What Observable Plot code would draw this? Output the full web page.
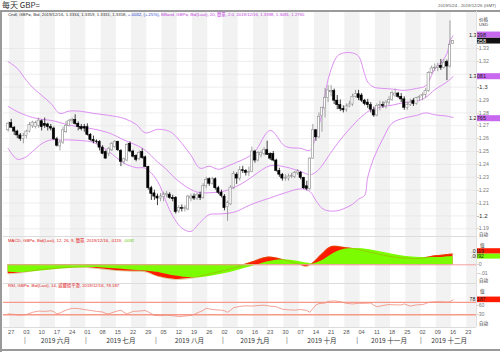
<!DOCTYPE html>
<html><head><meta charset="utf-8">
<script src="https://cdn.jsdelivr.net/npm/d3@7"></script>
<script src="https://cdn.jsdelivr.net/npm/@observablehq/plot@0.6"></script>
<style>
body{margin:0;background:#fff;}
#wrap{position:relative;width:500px;height:352px;overflow:hidden;background:#fff;font-family:"Liberation Sans","Noto Sans CJK SC",sans-serif;}
#wrap svg{position:absolute;left:0;top:0;}
.t{position:absolute;white-space:nowrap;line-height:1;}
</style></head><body><div id="wrap"></div>
<script>
// ---------- DATA ----------
const dates = ["2019-05-24","2019-05-27","2019-05-28","2019-05-29","2019-05-30","2019-05-31",
"2019-06-03","2019-06-04","2019-06-05","2019-06-06","2019-06-07","2019-06-10","2019-06-11","2019-06-12","2019-06-13","2019-06-14",
"2019-06-17","2019-06-18","2019-06-19","2019-06-20","2019-06-21","2019-06-24","2019-06-25","2019-06-26","2019-06-27","2019-06-28",
"2019-07-01","2019-07-02","2019-07-03","2019-07-04","2019-07-05","2019-07-08","2019-07-09","2019-07-10","2019-07-11","2019-07-12",
"2019-07-15","2019-07-16","2019-07-17","2019-07-18","2019-07-19","2019-07-22","2019-07-23","2019-07-24","2019-07-25","2019-07-26",
"2019-07-29","2019-07-30","2019-07-31","2019-08-01","2019-08-02","2019-08-05","2019-08-06","2019-08-07","2019-08-08","2019-08-09",
"2019-08-12","2019-08-13","2019-08-14","2019-08-15","2019-08-16","2019-08-19","2019-08-20","2019-08-21","2019-08-22","2019-08-23",
"2019-08-26","2019-08-27","2019-08-28","2019-08-29","2019-08-30","2019-09-02","2019-09-03","2019-09-04","2019-09-05","2019-09-06",
"2019-09-09","2019-09-10","2019-09-11","2019-09-12","2019-09-13","2019-09-16","2019-09-17","2019-09-18","2019-09-19","2019-09-20",
"2019-09-23","2019-09-24","2019-09-25","2019-09-26","2019-09-27","2019-09-30","2019-10-01","2019-10-02","2019-10-03","2019-10-04",
"2019-10-07","2019-10-08","2019-10-09","2019-10-10","2019-10-11","2019-10-14","2019-10-15","2019-10-16","2019-10-17","2019-10-18",
"2019-10-21","2019-10-22","2019-10-23","2019-10-24","2019-10-25","2019-10-28","2019-10-29","2019-10-30","2019-10-31","2019-11-01",
"2019-11-04","2019-11-05","2019-11-06","2019-11-07","2019-11-08","2019-11-11","2019-11-12","2019-11-13","2019-11-14","2019-11-15",
"2019-11-18","2019-11-19","2019-11-20","2019-11-21","2019-11-22","2019-11-25","2019-11-26","2019-11-27","2019-11-28","2019-11-29",
"2019-12-02","2019-12-03","2019-12-04","2019-12-05","2019-12-06","2019-12-09","2019-12-10","2019-12-11","2019-12-12","2019-12-13","2019-12-16"];
const open = [1.2665,1.2720,1.2685,1.2655,1.2625,1.2598,1.2620,1.2655,1.2695,1.2690,1.2700,1.2735,1.2715,1.2710,1.2690,1.2678,
1.2595,1.2540,1.2570,1.2650,1.2700,1.2735,1.2745,1.2715,1.2690,1.2690,1.2690,1.2630,1.2590,1.2578,1.2574,1.2530,1.2496,1.2483,1.2509,1.2535,
1.2575,1.2505,1.2420,1.2430,1.2560,1.2500,1.2465,1.2440,1.2495,1.2455,1.2380,1.2215,1.2175,1.2150,1.2135,1.2145,1.2160,1.2165,1.2140,1.2140,
1.2035,1.2060,1.2055,1.2050,1.2135,1.2150,1.2135,1.2160,1.2140,1.2230,1.2285,1.2250,1.2285,1.2215,1.2180,1.2150,1.2070,1.2090,1.2220,1.2320,
1.2290,1.2355,1.2350,1.2335,1.2340,1.2500,1.2430,1.2470,1.2480,1.2510,1.2480,1.2480,1.2430,1.2350,1.2320,1.2290,1.2290,1.2305,1.2300,1.2330,
1.2335,1.2295,1.2230,1.2210,1.2445,1.2665,1.2610,1.2775,1.2835,1.2915,1.2960,1.2970,1.2895,1.2860,1.2830,1.2825,1.2850,1.2865,1.2925,1.2945,
1.2935,1.2895,1.2880,1.2860,1.2820,1.2780,1.2855,1.2860,1.2850,1.2880,1.2900,1.2935,1.2950,1.2925,1.2905,1.2840,1.2860,1.2895,1.2870,1.2915,
1.2930,1.2940,1.2970,1.3110,1.3145,1.3150,1.3165,1.3150,1.3195,1.3160,1.3334];
const high = [1.2730,1.2750,1.2695,1.2665,1.2640,1.2640,1.2665,1.2725,1.2735,1.2735,1.2760,1.2745,1.2760,1.2720,1.2710,1.2690,
1.2610,1.2585,1.2690,1.2735,1.2750,1.2760,1.2785,1.2730,1.2710,1.2710,1.2715,1.2640,1.2620,1.2590,1.2585,1.2545,1.2505,1.2530,1.2570,1.2585,
1.2580,1.2515,1.2450,1.2565,1.2575,1.2510,1.2475,1.2505,1.2520,1.2465,1.2385,1.2230,1.2200,1.2170,1.2175,1.2185,1.2190,1.2180,1.2160,1.2150,
1.2080,1.2085,1.2080,1.2160,1.2170,1.2170,1.2175,1.2185,1.2250,1.2300,1.2295,1.2300,1.2295,1.2230,1.2200,1.2165,1.2115,1.2235,1.2345,1.2335,
1.2385,1.2385,1.2360,1.2380,1.2535,1.2510,1.2500,1.2505,1.2530,1.2580,1.2490,1.2500,1.2440,1.2370,1.2330,1.2320,1.2325,1.2330,1.2345,1.2360,
1.2345,1.2300,1.2270,1.2450,1.2710,1.2670,1.2800,1.2840,1.2990,1.3012,1.3012,1.2985,1.2935,1.2900,1.2855,1.2870,1.2890,1.2945,1.2975,1.2975,
1.2950,1.2905,1.2905,1.2880,1.2845,1.2870,1.2890,1.2885,1.2895,1.2925,1.2970,1.2985,1.2960,1.2950,1.2925,1.2885,1.2905,1.2910,1.2920,1.2935,
1.2955,1.2990,1.3120,1.3165,1.3180,1.3185,1.3215,1.3215,1.3210,1.3514,1.3359];
const low = [1.2650,1.2680,1.2625,1.2600,1.2580,1.2560,1.2600,1.2645,1.2680,1.2675,1.2680,1.2660,1.2680,1.2660,1.2660,1.2585,
1.2535,1.2505,1.2555,1.2640,1.2690,1.2715,1.2705,1.2660,1.2660,1.2650,1.2620,1.2580,1.2560,1.2560,1.2505,1.2475,1.2440,1.2460,1.2500,1.2525,
1.2500,1.2383,1.2400,1.2420,1.2490,1.2450,1.2420,1.2430,1.2440,1.2375,1.2200,1.2120,1.2120,1.2080,1.2110,1.2110,1.2140,1.2130,1.2110,1.2015,
1.2020,1.2030,1.2030,1.2040,1.2110,1.2120,1.2120,1.2120,1.2130,1.2210,1.2230,1.2240,1.2200,1.2165,1.2140,1.2040,1.1958,1.2080,1.2205,1.2245,
1.2270,1.2330,1.2310,1.2305,1.2335,1.2410,1.2420,1.2450,1.2465,1.2470,1.2430,1.2420,1.2340,1.2300,1.2270,1.2270,1.2270,1.2290,1.2290,1.2315,
1.2280,1.2205,1.2195,1.2195,1.2440,1.2580,1.2600,1.2650,1.2760,1.2880,1.2925,1.2865,1.2825,1.2810,1.2800,1.2805,1.2840,1.2850,1.2915,1.2895,
1.2880,1.2855,1.2835,1.2800,1.2765,1.2770,1.2815,1.2835,1.2830,1.2860,1.2890,1.2920,1.2910,1.2880,1.2820,1.2820,1.2850,1.2850,1.2860,1.2890,
1.2895,1.2915,1.2960,1.3100,1.3120,1.3120,1.3130,1.3140,1.3050,1.3150,1.3331];
const close = [1.2715,1.2685,1.2655,1.2625,1.2598,1.2620,1.2655,1.2705,1.2725,1.2720,1.2740,1.2690,1.2700,1.2690,1.2678,1.2595,
1.2545,1.2570,1.2665,1.2700,1.2735,1.2745,1.2715,1.2690,1.2675,1.2678,1.2630,1.2590,1.2578,1.2574,1.2530,1.2483,1.2445,1.2522,1.2560,1.2575,
1.2510,1.2420,1.2440,1.2550,1.2500,1.2460,1.2435,1.2490,1.2450,1.2380,1.2215,1.2170,1.2150,1.2135,1.2150,1.2165,1.2170,1.2140,1.2130,1.2030,
1.2060,1.2055,1.2060,1.2150,1.2150,1.2135,1.2160,1.2140,1.2230,1.2280,1.2250,1.2285,1.2215,1.2180,1.2155,1.2060,1.2100,1.2220,1.2325,1.2290,
1.2355,1.2350,1.2335,1.2340,1.2500,1.2430,1.2490,1.2490,1.2510,1.2475,1.2445,1.2430,1.2350,1.2320,1.2290,1.2295,1.2305,1.2310,1.2335,1.2345,
1.2295,1.2215,1.2210,1.2445,1.2665,1.2610,1.2770,1.2840,1.2915,1.2975,1.2970,1.2895,1.2860,1.2830,1.2820,1.2850,1.2865,1.2925,1.2945,1.2915,
1.2895,1.2870,1.2860,1.2825,1.2780,1.2855,1.2860,1.2852,1.2880,1.2900,1.2955,1.2950,1.2925,1.2905,1.2840,1.2860,1.2880,1.2870,1.2915,1.2925,
1.2940,1.2970,1.3110,1.3145,1.3150,1.3160,1.3150,1.3190,1.3160,1.3326,1.3358];

// Bollinger band (20, 2.0) values at sample days
const bandIdx   = [0,3,6,8,11,14,17,20,24,28,33,38,42,45,49,52,54,57,60,63,66,69,72,75,78,81,86,91,96,99,101,103,105,108,110,113,115,117,118,120,123,126,130,134,137,140,142,144,145,146];
const bandUpper = [1.3199,1.3145,1.3052,1.2998,1.2936,1.2874,1.2796,1.2814,1.2812,1.2796,1.2781,1.2757,1.2711,1.2645,1.2672,1.2664,1.2641,1.2564,1.2471,1.2370,1.2386,1.2362,1.2386,1.2417,1.2448,1.2500,1.2664,1.2540,1.2525,1.2509,1.2620,1.2800,1.3060,1.3240,1.3265,1.3265,1.3240,1.3100,1.3040,1.3000,1.2990,1.2985,1.2975,1.2990,1.3010,1.3140,1.3190,1.3260,1.3360,1.3398];
const bandMid   = [1.2850,1.2810,1.2780,1.2765,1.2750,1.2742,1.2725,1.2705,1.2690,1.2675,1.2645,1.2590,1.2550,1.2510,1.2420,1.2360,1.2310,1.2250,1.2205,1.2180,1.2180,1.2185,1.2200,1.2230,1.2270,1.2320,1.2390,1.2380,1.2345,1.2320,1.2340,1.2390,1.2460,1.2560,1.2620,1.2700,1.2750,1.2790,1.2810,1.2830,1.2850,1.2860,1.2880,1.2890,1.2920,1.2980,1.3010,1.3040,1.3060,1.3081];
const bandLower = [1.2525,1.2440,1.2460,1.2500,1.2560,1.2590,1.2590,1.2590,1.2585,1.2570,1.2500,1.2410,1.2375,1.2370,1.2270,1.2100,1.2000,1.1905,1.1880,1.1950,1.2010,1.2015,1.2020,1.2035,1.2070,1.2100,1.2140,1.2180,1.2210,1.2190,1.2120,1.2060,1.2040,1.2040,1.2055,1.2090,1.2130,1.2160,1.2300,1.2450,1.2600,1.2720,1.2760,1.2780,1.2800,1.2785,1.2780,1.2775,1.2770,1.2765];

// MACD (12, 26, 9)
const macdIdx    = [0,5,10,15,20,25,30,35,40,45,48,50,55,60,65,70,75,80,85,90,95,98,100,103,106,110,115,120,125,130,135,140,143,146];
const macdLine   = [-0.0100,-0.0085,-0.0055,-0.0040,-0.0030,-0.0028,-0.0045,-0.0062,-0.0072,-0.0078,-0.0115,-0.0135,-0.0162,-0.0150,-0.0110,-0.0070,-0.0025,0.0030,0.0085,0.0060,0.0010,-0.0020,0.0020,0.0120,0.0200,0.0195,0.0170,0.0130,0.0095,0.0075,0.0070,0.0100,0.0110,0.0119];
const signalLine = [-0.0082,-0.0085,-0.0072,-0.0055,-0.0040,-0.0032,-0.0033,-0.0045,-0.0058,-0.0068,-0.0080,-0.0090,-0.0125,-0.0145,-0.0135,-0.0105,-0.0065,-0.0020,0.0030,0.0055,0.0040,0.0020,0.0010,0.0045,0.0110,0.0170,0.0180,0.0160,0.0125,0.0095,0.0080,0.0080,0.0085,0.0092];

// RSI (14)
const rsiIdx  = [0,2,4,6,8,10,12,14,15,16,17,19,21,23,25,27,29,31,32,33,35,37,38,39,41,43,45,46,48,50,52,54,55,56,58,60,61,62,64,65,66,68,70,71,72,73,74,76,78,80,82,84,86,88,90,92,94,96,98,99,100,101,102,104,105,107,109,111,113,115,117,119,120,121,123,125,127,129,130,132,134,136,137,138,140,142,144,145,146];
const rsiVals = [33,31,29,31,38,42,41,43,40,33,36,45,51,50,47,44,41,39,35,33,40,45,38,33,41,42,44,39,28,27,29,27,26,24,26,28,31,36,44,51,49,46,45,43,38,45,53,57,59,58,60,61,58,56,48,46,45,47,44,38,50,62,66,68,73,75,72,67,65,67,67,68,61,56,60,63,62,62,65,58,62,63,66,70,72,72,71,72,78.187];

// axis ticks / labels
const priceTicks = [1.19,1.2,1.21,1.22,1.23,1.24,1.25,1.26,1.27,1.28,1.29,1.3,1.31,1.32,1.33];
const priceTickLabels = ["1.19","1.2","1.21","1.22","1.23","1.24","1.25","1.26","1.27","1.28","1.29","1.3","1.31","1.32","1.33"];
const macdTicks = [0, -0.01];
const macdTickLabels = ["0", "-.01"];
const rsiLevels = [30, 70];
const rsiTicks = [30, 60];
const rsiTickLabels = ["30", "60"];
const dayTickIdx = [1,6,11,16,21,26,31,36,41,46,51,56,61,66,71,76,81,86,91,96,101,106,111,116,121,126,131,136,141,146,151];
const dayTickLabels = ["27","03","10","17","24","01","08","15","22","29","05","12","19","26","02","09","16","23","30","07","14","21","28","04","11","18","25","02","09","16","23"];
const monthLabels = ["2019 六月","2019 七月","2019 八月","2019 九月","2019 十月","2019 十一月","2019 十二月"];
const monthStart = [5.5,25.5,48.5,70.5,91.5,114.5,135.5];
const monthEnd   = [25.5,48.5,70.5,91.5,114.5,135.5,154];
const lastDayIdx = 154; // 2019-12-26

// right-axis value badges
const priceBadges = [
  {value:1.3398, text:"1.3398", fill:"#c768ee", color:"#222"},
  {value:1.3358, text:"1.3358", fill:"#111", color:"#fff"},
  {value:1.3081, text:"1.3081", fill:"#c768ee", color:"#222"},
  {value:1.2765, text:"1.2765", fill:"#c768ee", color:"#222"}];
const macdBadges = [
  {value:0.0119, text:".0119", fill:"#ff1a00", color:"#222"},
  {value:0.0092, text:".0092", fill:"#7cfc00", color:"#222"}];
const rsiBadges = [{value:78.187, text:"78.187", fill:"#ff1a00", color:"#222"}];

// ---------- BUILD ----------
const wrap = document.getElementById("wrap");
const X = {type:"linear", domain:[0, lastDayIdx], range:[7.65, 476.9], axis:null};
const W = 500, H = 352;
const base = {width:W, height:H, marginLeft:3, marginRight:24, style:{background:"transparent", overflow:"visible"}};
const FONT = "Liberation Sans, Noto Sans CJK SC, sans-serif";

const candles = dates.map((d,i)=>({i, o:open[i], h:high[i], l:low[i], c:close[i], up: close[i] >= open[i]}));
const band = bandIdx.map((i,k)=>({i, u:bandUpper[k], m:bandMid[k], l:bandLower[k]}));
const macd = macdIdx.map((i,k)=>({i, m:macdLine[k], s:signalLine[k]}));
const rsi = rsiIdx.map((i,k)=>({i, v:rsiVals[k]}));
const stripes = dayTickIdx.filter((_,k)=>k%2===0).map(i=>({x1:i-0.5, x2:i+4.5}));

// value badge mark on the right axis (uses the plot's y scale); stacked from bottom up,
// nudged off any visible tick label it would touch
function badges(items, fs, h, tickVals){
  return (index, scales) => {
    const g = d3.create("svg:g");
    const tys = (tickVals||[]).map(v=>scales.y(v));
    let prevTop = Infinity;
    [...items].sort((a,b)=>a.value-b.value).forEach(b=>{
      let y = scales.y(b.value);
      for (const ty of tys) {
        const gap = Math.abs(y-ty);
        if (gap > h/2 && gap < h/2+2.8) y += (y>ty ? 1 : -1)*(h/2+2.8-gap);
      }
      if (y + h/2 > prevTop) y = prevTop - h/2;
      prevTop = y - h/2;
      g.append("rect").attr("x",476.5).attr("y",y-h/2).attr("width",23.5).attr("height",h).attr("fill",b.fill);
      g.append("text").attr("x",477.5).attr("y",y).attr("dy","0.36em").attr("font-size",fs).attr("font-family",FONT)
        .attr("fill",b.color).text(b.text);
    });
    return g.node();
  };
}
const nearBadge = (v, list, tol) => list.some(b => Math.abs(b.value - v) < tol);
const shownPriceTicks = priceTicks.filter(d=>!nearBadge(d, priceBadges, 0.0032));

// background: week stripes + x axis labels
wrap.appendChild(Plot.plot({...base, marginTop:11, marginBottom:H-327,
  x:X, y:{domain:[0,1], axis:null},
  marks:[
    Plot.rect(stripes, {x1:"x1", x2:"x2", fill:"#f2f2f2", clip:true}),
    Plot.text(dayTickIdx, {x:d=>d, text:(d,k)=>dayTickLabels[k], frameAnchor:"bottom", dy:6, fontSize:5.6, fill:"#555", fontFamily:FONT}),
    Plot.text(monthLabels, {x:(d,k)=>(monthStart[k]+monthEnd[k])/2, text:d=>d, frameAnchor:"bottom", dy:15, fontSize:6.6, fill:"#333", fontFamily:"Noto Sans CJK SC, sans-serif"}),
    Plot.text(monthStart, {x:d=>d, text:()=>"|", frameAnchor:"bottom", dy:14.5, fontSize:7, fill:"#777", fontFamily:FONT})
  ]}));

// main price panel
wrap.appendChild(Plot.plot({...base, marginTop:11, marginBottom:H-235,
  x:X, y:{domain:[1.19,1.33], range:[228.3,48], axis:null},
  marks:[
    Plot.ruleY(priceTicks, {stroke:"#e2e2e2", strokeWidth:0.6}),
    Plot.line(band, {x:"i", y:"u", stroke:"#dd8ff2", strokeWidth:1, curve:"catmull-rom", clip:true}),
    Plot.line(band, {x:"i", y:"m", stroke:"#dd8ff2", strokeWidth:1, curve:"catmull-rom", clip:true}),
    Plot.line(band, {x:"i", y:"l", stroke:"#dd8ff2", strokeWidth:1, curve:"catmull-rom", clip:true}),
    Plot.ruleX(candles, {x:"i", y1:"l", y2:"h", stroke:d=>d.up?"#8c8c8c":"#111", strokeWidth:0.8}),
    Plot.rect(candles, {x1:d=>d.i-0.36, x2:d=>d.i+0.36, y1:d=>Math.min(d.o,d.c), y2:d=>Math.max(d.o,d.c),
      fill:d=>d.up?"#fff":"#000", stroke:d=>d.up?"#8c8c8c":"#000", strokeWidth:0.6}),
    Plot.text(shownPriceTicks, {y:d=>d, text:d=>"-"+priceTickLabels[priceTicks.indexOf(d)], frameAnchor:"right", textAnchor:"start", dx:0.5,
      fontSize:d=>(d===1.2||d===1.3)?6.2:5.2, fontWeight:d=>(d===1.2||d===1.3)?"bold":"normal", fill:d=>(d===1.2||d===1.3)?"#333":"#777", fontFamily:FONT}),
    badges(priceBadges, 5.6, 6, shownPriceTicks)
  ]}));

// MACD panel
wrap.appendChild(Plot.plot({...base, marginTop:237, marginBottom:H-282,
  x:X, y:{domain:[-0.01,0], range:[273.3,264.3], axis:null},
  marks:[
    Plot.areaY(macd, {x:"i", y1:0, y2:"m", fill:"#ff1a00", curve:"catmull-rom", clip:true}),
    Plot.areaY(macd, {x:"i", y1:0, y2:"s", fill:"#7cfc00", curve:"catmull-rom", clip:true}),
    Plot.line(macd, {x:"i", y:"m", stroke:"#b8860b", strokeWidth:0.6, strokeOpacity:0.7, curve:"catmull-rom", clip:true}),
    Plot.ruleY([0], {x1:0, x2:lastDayIdx, stroke:"#f4a0a0", strokeWidth:1}),
    Plot.text(macdTicks, {y:d=>d, text:(d,k)=>"-"+macdTickLabels[k], frameAnchor:"right", textAnchor:"start", dx:0.5, fontSize:5.2, fill:"#777", fontFamily:FONT}),
    badges(macdBadges, 5.2, 5.2)
  ]}));

// RSI panel
wrap.appendChild(Plot.plot({...base, marginTop:283, marginBottom:H-327,
  x:X, y:{domain:[30,70], range:[314.3,301.9], axis:null},
  marks:[
    Plot.ruleY(rsiLevels, {stroke:"#f59a8a", strokeWidth:1.4}),
    Plot.line(rsi, {x:"i", y:"v", stroke:"#f28a7a", strokeWidth:0.8, clip:true}),
    Plot.text(rsiTicks, {y:d=>d, text:(d,k)=>"-"+rsiTickLabels[k], frameAnchor:"right", textAnchor:"start", dx:0.5, fontSize:5.2, fill:"#777", fontFamily:FONT}),
    badges(rsiBadges, 5.2, 5.6)
  ]}));

// ---------- TEXT / FRAME ----------
function txt(s, x, y, css){ const d=document.createElement("div"); d.className="t"; d.innerHTML=s; d.style.left=x+"px"; d.style.top=y+"px"; d.style.cssText+=css||""; wrap.appendChild(d); return d; }
function line(x,y,w,h,c){ const d=document.createElement("div"); d.style.cssText=`position:absolute;left:${x}px;top:${y}px;width:${w}px;height:${h}px;background:${c}`; wrap.appendChild(d); }
line(0,10,500,1.5,"#9a9a9a");
line(0,10,1.5,342,"#9a9a9a");
line(0,349,500,1.5,"#9a9a9a");
line(3,235.5,473,0.8,"#dcdcdc");
line(3,282.5,473,0.8,"#dcdcdc");
line(3,327,473,0.8,"#dcdcdc");
line(476,11,0.8,316,"#e0e0e0");
txt("每天 GBP=", 2, 1, "font-size:8px;color:#333;font-family:'Noto Sans CJK SC',sans-serif;");
txt("2019/5/24 - 2019/12/26 (GMT)", 438, 4, "font-size:4.3px;color:#555;");
txt('Cndl, GBP=, Bid, 2019/12/16, 1.3334, 1.3359, 1.3331, 1.3358, <span style="color:#2a3ccf">+.0032, (+.25%),</span> <span style="color:#c23ee0">BBand, GBP=, Bid(Last), 20, 簡單, 2.0, 2019/12/16, 1.3398, 1.3081, 1.2765</span>', 8, 12.5, "font-size:4.3px;color:#333;");
txt("价格", 479, 16.5, "font-size:4.6px;color:#333;font-family:'Noto Sans CJK SC',sans-serif;");
txt("USD", 479, 22.5, "font-size:4.3px;color:#333;");
txt("自动", 479, 231.5, "font-size:4.6px;color:#333;font-family:'Noto Sans CJK SC',sans-serif;");
txt('MACD, GBP=, Bid(Last), 12, 26, 9, 簡單, 2019/12/16, .0119, <span style="color:#5ecb00">.0092</span>', 8, 239, "font-size:4.3px;color:#e02020;");
txt("值", 480, 242.5, "font-size:4.6px;color:#333;font-family:'Noto Sans CJK SC',sans-serif;");
txt("自动", 479, 278, "font-size:4.6px;color:#333;font-family:'Noto Sans CJK SC',sans-serif;");
txt('RSI, GBP=, Bid(Last), 14, 威爾德平滑, 2019/12/16, 78.187', 8, 284, "font-size:4.3px;color:#e02020;");
txt("值", 480, 288.5, "font-size:4.6px;color:#333;font-family:'Noto Sans CJK SC',sans-serif;");
txt("自动", 479, 321, "font-size:4.6px;color:#333;font-family:'Noto Sans CJK SC',sans-serif;");
</script></body></html>
